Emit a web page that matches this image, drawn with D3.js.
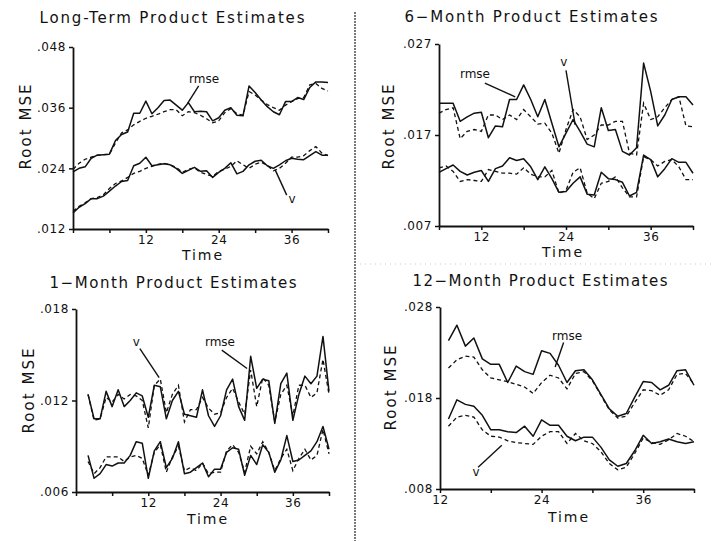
<!DOCTYPE html>
<html>
<head>
<meta charset="utf-8">
<script src="https://cdn.jsdelivr.net/npm/d3@7"></script>
<style>
  html, body { margin: 0; padding: 0; background: #fff; }
  svg { display: block; }
  text { font-family: "DejaVu Sans", "Liberation Sans", sans-serif; fill: #111; }
</style>
</head>
<body>
<script>
// Long-term product estimates, months 0..42
const ltStart = 0;
const lt_rmse   = [.0233,.0240,.0243,.0260,.0266,.0267,.0268,.0295,.0307,.0312,.0349,.0349,.0373,.0348,.0360,.0374,.0375,.0365,.0355,.0370,.0352,.0353,.0352,.0334,.0340,.0355,.0360,.0345,.0344,.0403,.0390,.0375,.0362,.0352,.0346,.0372,.0372,.0380,.0376,.0400,.0411,.0411,.0410];
const lt_rmse_d = [.0238,.0250,.0258,.0262,.0266,.0267,.0268,.0290,.0310,.0316,.0326,.0333,.0339,.0343,.0347,.0352,.0356,.0356,.0344,.0352,.0350,.0345,.0338,.0330,.0334,.0350,.0358,.0348,.0345,.0392,.0385,.0375,.0366,.0360,.0355,.0365,.0372,.0378,.0380,.0405,.0408,.0398,.0393];
const lt_v      = [.0152,.0163,.0170,.0180,.0180,.0185,.0195,.0205,.0214,.0216,.0245,.0250,.0262,.0245,.0247,.0249,.0247,.0240,.0230,.0236,.0242,.0234,.0235,.0222,.0232,.0240,.0251,.0229,.0234,.0247,.0254,.0256,.0245,.0240,.0247,.0255,.0260,.0258,.0257,.0265,.0273,.0266,.0266];
const lt_v_d    = [.0155,.0165,.0172,.0180,.0182,.0188,.0200,.0210,.0215,.0222,.0230,.0234,.0240,.0244,.0248,.0250,.0247,.0242,.0232,.0238,.0241,.0232,.0228,.0224,.0234,.0238,.0244,.0255,.0247,.0240,.0248,.0252,.0246,.0235,.0240,.0250,.0262,.0262,.0265,.0275,.0283,.0270,.0265];
const lt_yticks = [.012,.024,.036,.048];

// 6-month product estimates, months 6..42
const m6Start = 6;
const m6_rmse   = [.0205,.0205,.0205,.0185,.0190,.0194,.0195,.0167,.0180,.0179,.0209,.0209,.0225,.0209,.0190,.0209,.0183,.0157,.0172,.0187,.0174,.0160,.0157,.0200,.0175,.0176,.0152,.0148,.0156,.0249,.0218,.0180,.0192,.0209,.0212,.0212,.0203];
const m6_rmse_d = [.0194,.0198,.0200,.0166,.0174,.0176,.0174,.0192,.0192,.0187,.0192,.0187,.0198,.0190,.0182,.0183,.0172,.0150,.0176,.0198,.0190,.0165,.0170,.0181,.0181,.0185,.0185,.0150,.0148,.0205,.0187,.0190,.0200,.0209,.0212,.0180,.0179];
const m6_v      = [.0129,.0133,.0137,.0130,.0126,.0129,.0131,.0119,.0133,.0136,.0145,.0142,.0144,.0135,.0121,.0135,.0122,.0107,.0108,.0117,.0124,.0105,.0104,.0129,.0122,.0121,.0118,.0103,.0107,.0148,.0143,.0124,.0133,.0144,.0140,.0140,.0128];
const m6_v_d    = [.0134,.0136,.0130,.0119,.0121,.0120,.0119,.0132,.0130,.0128,.0128,.0127,.0134,.0127,.0124,.0124,.0131,.0106,.0109,.0129,.0134,.0106,.0100,.0117,.0119,.0124,.0112,.0102,.0102,.0146,.0143,.0136,.0141,.0143,.0135,.0121,.0121];
const m6_yticks = [.007,.017,.027];

// 1-month product estimates, months 2..42
const m1Start = 2;
const m1_rmse   = [.0124,.0108,.0108,.0126,.0116,.0127,.0116,.0120,.0125,.0123,.0109,.0130,.0129,.0108,.0120,.0126,.0111,.0110,.0109,.0127,.0110,.0103,.0110,.0127,.0134,.0116,.0107,.0149,.0128,.0134,.0133,.0105,.0131,.0138,.0107,.0124,.0136,.0131,.0136,.0162,.0126];
const m1_rmse_d = [.0124,.0107,.0108,.0122,.0119,.0124,.0121,.0124,.0123,.0120,.0102,.0130,.0134,.0112,.0124,.0130,.0106,.0114,.0114,.0122,.0115,.0111,.0112,.0122,.0128,.0119,.0111,.0140,.0116,.0135,.0130,.0106,.0124,.0130,.0110,.0130,.0130,.0122,.0125,.0147,.0124];
const m1_v      = [.0084,.0069,.0072,.0078,.0077,.0079,.0079,.0084,.0093,.0092,.0069,.0087,.0093,.0076,.0082,.0093,.0072,.0073,.0076,.0079,.0070,.0075,.0075,.0086,.0089,.0088,.0071,.0084,.0078,.0091,.0086,.0073,.0081,.0097,.0080,.0081,.0084,.0087,.0093,.0103,.0088];
const m1_v_d    = [.0080,.0072,.0076,.0083,.0083,.0083,.0080,.0083,.0084,.0082,.0071,.0086,.0091,.0073,.0083,.0090,.0074,.0076,.0074,.0079,.0072,.0073,.0073,.0087,.0091,.0086,.0073,.0090,.0085,.0093,.0086,.0074,.0082,.0088,.0074,.0082,.0088,.0081,.0084,.0101,.0085];
const m1_yticks = [.006,.012,.018];

// 12-month product estimates, months 13..42
const m12Start = 13;
const m12_rmse   = [.0243,.0260,.0237,.0246,.0223,.0217,.0217,.0197,.0215,.0209,.0206,.0232,.0229,.0216,.0197,.0210,.0211,.0200,.0184,.0168,.0160,.0163,.0181,.0198,.0197,.0189,.0194,.0210,.0211,.0194];
const m12_rmse_d = [.0213,.0222,.0226,.0225,.0211,.0202,.0200,.0198,.0195,.0192,.0185,.0197,.0205,.0202,.0190,.0207,.0209,.0199,.0183,.0167,.0158,.0160,.0175,.0189,.0188,.0183,.0189,.0206,.0207,.0195];
const m12_v      = [.0157,.0178,.0173,.0171,.0161,.0145,.0145,.0143,.0142,.0149,.0138,.0156,.0150,.0150,.0138,.0133,.0137,.0137,.0126,.0112,.0105,.0108,.0122,.0139,.0130,.0132,.0135,.0132,.0130,.0132];
const m12_v_d    = [.0149,.0159,.0161,.0159,.0145,.0138,.0137,.0133,.0131,.0130,.0129,.0138,.0143,.0143,.0130,.0141,.0133,.0130,.0121,.0108,.0101,.0104,.0119,.0136,.0131,.0129,.0134,.0141,.0138,.0132];
const m12_yticks = [.008,.018,.028];

const xTickLabels = [12, 24, 36];
const titles = ["Long-Term Product Estimates", "6\u2212Month Product Estimates",
                "1\u2212Month Product Estimates", "12\u2212Month Product Estimates"];

// Panel frames (pixel layout) and label anchors (in data units)
const panels = [
  { title: titles[0], start: ltStart, solid: [lt_rmse, lt_v], dashed: [lt_rmse_d, lt_v_d],
    xDomain: [0, 42], yDomain: [.012, .048], yTicks: lt_yticks,
    box: { x0: 73, x1: 328, yTop: 47, yBot: 229 },
    titleX: 172, titleY: 23, titleW: 265, ylabX: 31, ylabY: 127, timeX: 202, timeY: 260,
    notes: [ { text: "rmse", at: [21.6, .0409], from: [20.7, .0403], to: [18.9, .0369] },
             { text: "v",    at: [36.1, .0172], from: [35.2, .0187], to: [33.3, .0237] } ] },
  { title: titles[1], start: m6Start, solid: [m6_rmse, m6_v], dashed: [m6_rmse_d, m6_v_d],
    xDomain: [6, 42], yDomain: [.007, .027], yTicks: m6_yticks,
    box: { x0: 439, x1: 693, yTop: 44, yBot: 226 },
    titleX: 531, titleY: 22, titleW: 253, ylabX: 394, ylabY: 127, timeX: 562, timeY: 257,
    notes: [ { text: "rmse", at: [11.1, .0233], from: [12.5, .0227], to: [16.8, .0212] },
             { text: "v",    at: [23.7, .0246], from: [24.0, .0241], to: [25.3, .0181] } ] },
  { title: titles[2], start: m1Start, solid: [m1_rmse, m1_v], dashed: [m1_rmse_d, m1_v_d],
    xDomain: [0, 42], yDomain: [.006, .018], yTicks: m1_yticks,
    box: { x0: 76, x1: 329, yTop: 309, yBot: 492 },
    titleX: 173, titleY: 288, titleW: 247, ylabX: 34, ylabY: 391, timeX: 207, timeY: 524,
    notes: [ { text: "v",    at: [10.0, .0156], from: [10.6, .0154], to: [13.8, .0135] },
             { text: "rmse", at: [23.9, .0156], from: [24.2, .0153], to: [28.4, .0141] } ] },
  { title: titles[3], start: m12Start, solid: [m12_rmse, m12_v], dashed: [m12_rmse_d, m12_v_d],
    xDomain: [12, 42], yDomain: [.008, .028], yTicks: m12_yticks,
    box: { x0: 440, x1: 694, yTop: 307, yBot: 489 },
    titleX: 540, titleY: 286, titleW: 255, ylabX: 396, ylabY: 388, timeX: 568, timeY: 522,
    notes: [ { text: "rmse", at: [27.0, .0244], from: [26.6, .0241], to: [25.6, .0214] },
             { text: "v",    at: [16.25, .0094], from: [16.5, .0104], to: [19.3, .0128] } ] }
];

const W = 712, H = 541;
const svg = d3.select("body").append("svg").attr("width", W).attr("height", H);
svg.append("rect").attr("width", W).attr("height", H).attr("fill", "#fff");

// page divider between the left and right columns
svg.append("line").attr("x1", 355).attr("x2", 355).attr("y1", 12).attr("y2", H)
  .attr("stroke", "#333").attr("stroke-width", 1.3).attr("stroke-dasharray", "2,1");
svg.append("line").attr("x1", 360).attr("x2", 712).attr("y1", 264).attr("y2", 264)
  .attr("stroke", "#bbb").attr("stroke-width", 0.8).attr("stroke-dasharray", "1,4");

const fmtY = v => d3.format(".3f")(v).replace(/^0/, "");

panels.forEach(p => {
  const x = d3.scaleLinear().domain(p.xDomain).range([p.box.x0, p.box.x1]);
  const y = d3.scaleLinear().domain(p.yDomain).range([p.box.yBot, p.box.yTop]);
  const g = svg.append("g");

  // title
  g.append("text").attr("x", p.titleX).attr("y", p.titleY)
    .attr("text-anchor", "middle").attr("font-size", 15)
    .attr("textLength", p.titleW).attr("lengthAdjust", "spacing")
    .text(p.title);

  // x axis: ticks every six months, labels at 12/24/36
  const xTicks = d3.range(Math.ceil(p.xDomain[0] / 6) * 6, p.xDomain[1] + 0.01, 6);
  const xAxis = d3.axisBottom(x).tickValues(xTicks).tickSize(4).tickSizeOuter(0).tickPadding(2)
    .tickFormat(d => xTickLabels.includes(d) ? d : "");
  const gx = g.append("g").attr("transform", `translate(0,${p.box.yBot})`).call(xAxis);
  gx.select(".domain").attr("stroke", "#111").attr("stroke-width", 1.8);
  gx.selectAll(".tick line").attr("stroke", "#111").attr("stroke-width", 1.5);
  gx.selectAll(".tick text").attr("font-size", 12).attr("fill", "#111")
    .attr("font-family", "DejaVu Sans, sans-serif").attr("letter-spacing", 0.6);

  // y axis
  const yAxis = d3.axisLeft(y).tickValues(p.yTicks).tickSize(4).tickSizeOuter(0).tickPadding(3)
    .tickFormat(fmtY);
  const gy = g.append("g").attr("transform", `translate(${p.box.x0},0)`).call(yAxis);
  gy.select(".domain").attr("stroke", "#111").attr("stroke-width", 1.8);
  gy.selectAll(".tick line").attr("stroke", "#111").attr("stroke-width", 1.5);
  gy.selectAll(".tick text").attr("font-size", 12).attr("fill", "#111")
    .attr("font-family", "DejaVu Sans, sans-serif").attr("letter-spacing", 0.6);

  // axis titles
  g.append("text").attr("transform", `translate(${p.ylabX},${p.ylabY}) rotate(-90)`)
    .attr("text-anchor", "middle").attr("font-size", 15)
    .attr("textLength", 85).attr("lengthAdjust", "spacing").text("Root MSE");
  g.append("text").attr("x", p.timeX).attr("y", p.timeY)
    .attr("text-anchor", "middle").attr("font-size", 14)
    .attr("textLength", 40).attr("lengthAdjust", "spacing").text("Time");

  // series
  const line = d3.line().x((d, i) => x(p.start + i)).y(d => y(d));
  p.dashed.forEach(s => {
    g.append("path").datum(s).attr("d", line).attr("fill", "none")
      .attr("stroke", "#111").attr("stroke-width", 1.3).attr("stroke-dasharray", "4,3");
  });
  p.solid.forEach(s => {
    g.append("path").datum(s).attr("d", line).attr("fill", "none")
      .attr("stroke", "#111").attr("stroke-width", 1.5).attr("stroke-linejoin", "round");
  });

  // series labels with leader lines
  p.notes.forEach(n => {
    g.append("line").attr("x1", x(n.from[0])).attr("y1", y(n.from[1]))
      .attr("x2", x(n.to[0])).attr("y2", y(n.to[1]))
      .attr("stroke", "#111").attr("stroke-width", 1.4);
    g.append("text").attr("x", x(n.at[0])).attr("y", y(n.at[1]))
      .attr("text-anchor", "middle").attr("font-size", 12).text(n.text);
  });
});
</script>
</body>
</html>
